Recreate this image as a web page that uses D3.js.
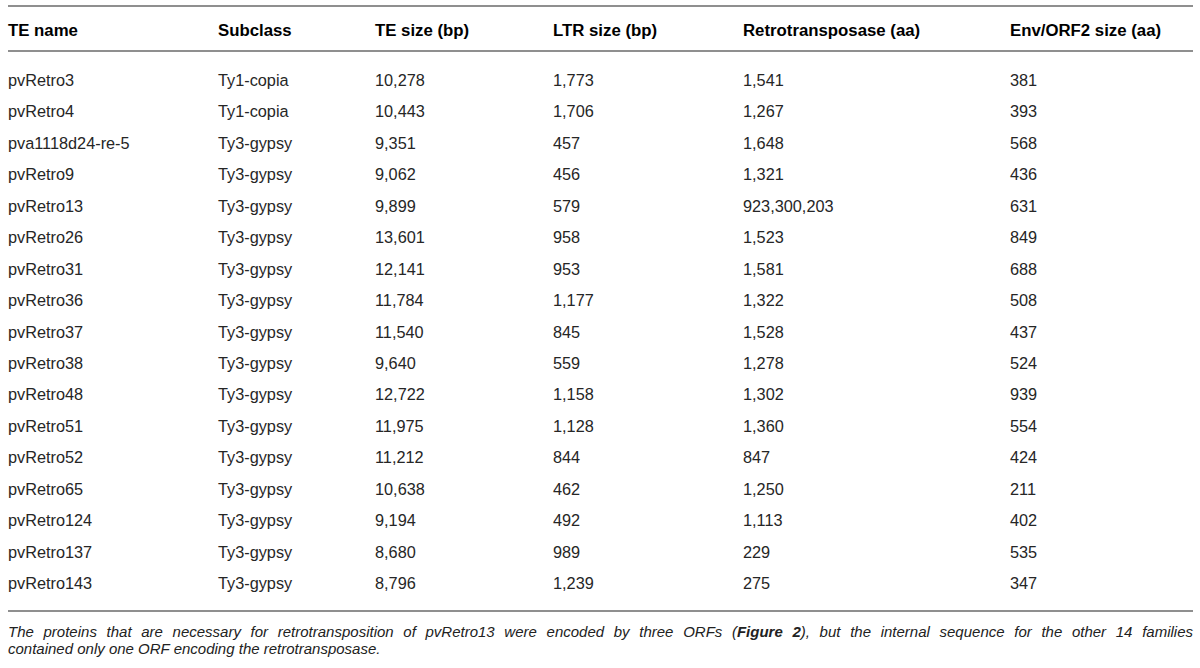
<!DOCTYPE html>
<html>
<head>
<meta charset="utf-8">
<script src="https://cdn.jsdelivr.net/npm/d3@7"></script>
<style>
  body { margin: 0; background: #fff; }
  #wrap { position: relative; width: 1200px; height: 668px; }
  svg { position: absolute; left: 0; top: 0; }
  #note {
    position: absolute; left: 8px; top: 623px; width: 1185px;
    font-family: "Liberation Sans", Arial, sans-serif; font-style: italic;
    font-size: 15px; line-height: 17px; color: #222;
  }
  #note div.full { text-align: justify; text-align-last: justify; }
</style>
</head>
<body>
<div id="wrap">
  <svg id="table" width="1200" height="668"></svg>
  <div id="note"></div>
</div>
<script>
const columns = ["TE name", "Subclass", "TE size (bp)", "LTR size (bp)", "Retrotransposase (aa)", "Env/ORF2 size (aa)"];

const teNames = ["pvRetro3", "pvRetro4", "pva1118d24-re-5", "pvRetro9", "pvRetro13", "pvRetro26",
  "pvRetro31", "pvRetro36", "pvRetro37", "pvRetro38", "pvRetro48", "pvRetro51", "pvRetro52",
  "pvRetro65", "pvRetro124", "pvRetro137", "pvRetro143"];
const subclasses = ["Ty1-copia", "Ty1-copia", "Ty3-gypsy", "Ty3-gypsy", "Ty3-gypsy", "Ty3-gypsy",
  "Ty3-gypsy", "Ty3-gypsy", "Ty3-gypsy", "Ty3-gypsy", "Ty3-gypsy", "Ty3-gypsy", "Ty3-gypsy",
  "Ty3-gypsy", "Ty3-gypsy", "Ty3-gypsy", "Ty3-gypsy"];
const teSize = ["10,278", "10,443", "9,351", "9,062", "9,899", "13,601", "12,141", "11,784", "11,540",
  "9,640", "12,722", "11,975", "11,212", "10,638", "9,194", "8,680", "8,796"];
const ltrSize = ["1,773", "1,706", "457", "456", "579", "958", "953", "1,177", "845",
  "559", "1,158", "1,128", "844", "462", "492", "989", "1,239"];
const retroSize = ["1,541", "1,267", "1,648", "1,321", "923,300,203", "1,523", "1,581", "1,322", "1,528",
  "1,278", "1,302", "1,360", "847", "1,250", "1,113", "229", "275"];
const envSize = ["381", "393", "568", "436", "631", "849", "688", "508", "437",
  "524", "939", "554", "424", "211", "402", "535", "347"];

// footnote, one entry per printed line; b marks bold runs
const footnote = [
  [
    { t: "The proteins that are necessary for retrotransposition of pvRetro13 were encoded by three ORFs (", b: false },
    { t: "Figure 2", b: true },
    { t: "), but the internal sequence for the other 14 families", b: false }
  ],
  [
    { t: "contained only one ORF encoding the retrotransposase.", b: false }
  ]
];

const rows = teNames.map((n, i) => [n, subclasses[i], teSize[i], ltrSize[i], retroSize[i], envSize[i]]);

const svg = d3.select("#table");
const font = "'Liberation Sans', Arial, sans-serif";

// column left edges
const x = d3.scaleOrdinal()
  .domain(columns)
  .range([8, 218, 375, 553, 743, 1010]);

// row baselines
const y = d3.scalePoint()
  .domain(d3.range(rows.length))
  .range([86, 589]);

// rules
svg.append("g")
  .attr("stroke", "#6a6a6a")
  .attr("stroke-width", 1.6)
  .selectAll("line")
  .data([6, 51, 611])
  .join("line")
  .attr("x1", 8)
  .attr("x2", 1193)
  .attr("y1", (d) => d)
  .attr("y2", (d) => d);

// header
svg.append("g")
  .selectAll("text")
  .data(columns)
  .join("text")
  .attr("x", (d) => x(d))
  .attr("y", 36)
  .attr("font-family", font)
  .attr("font-weight", "bold")
  .attr("font-size", 16.8)
  .attr("fill", "#000")
  .text((d) => d);

// body
const row = svg.append("g")
  .selectAll("g")
  .data(rows)
  .join("g")
  .attr("transform", (d, i) => `translate(0,${y(i)})`);

row.selectAll("text")
  .data((d) => d)
  .join("text")
  .attr("x", (d, j) => x(columns[j]))
  .attr("font-family", font)
  .attr("font-size", 16.3)
  .attr("fill", "#262626")
  .text((d) => d);

// footnote
d3.select("#note")
  .selectAll("div")
  .data(footnote)
  .join("div")
  .attr("class", (d, i) => (i < footnote.length - 1 ? "full" : null))
  .selectAll("span")
  .data((d) => d)
  .join("span")
  .style("font-weight", (d) => (d.b ? "bold" : "normal"))
  .text((d) => d.t);
</script>
</body>
</html>
